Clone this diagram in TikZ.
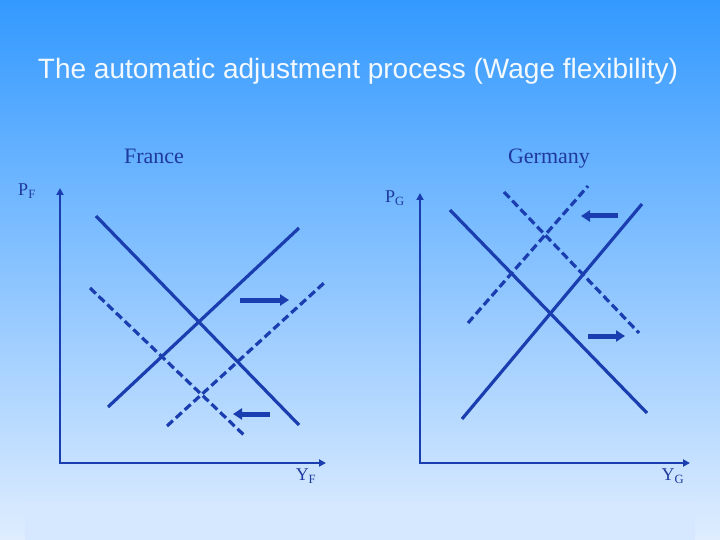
\documentclass[tikz,border=0pt]{standalone}
\usepackage{fontspec}
\setmainfont{Liberation Serif}
\newfontfamily\titlefont{Liberation Sans}
\usetikzlibrary{arrows.meta}

\definecolor{topblue}{HTML}{3399FF}
\definecolor{midblue}{HTML}{A4CAFA}
\definecolor{botblue}{HTML}{DFEDFF}
\definecolor{footblue}{HTML}{D5E8FF}
\definecolor{curveblue}{HTML}{1A3DB0}
\definecolor{labelblue}{HTML}{1F3A9E}

\begin{document}
\begin{tikzpicture}[
        x=1pt, y=-1pt,
        >={Triangle[length=7pt, width=7pt]},
        every node/.style={text=labelblue, inner sep=0pt},
        axis/.style={<->, draw=curveblue, line width=2.8pt},
        curve/.style={draw=curveblue, line width=3.2pt},
        shifted/.style={curve, dash pattern=on 8pt off 4pt},
        move/.style={draw=curveblue, line width=5pt, -{Triangle[length=9pt, width=11pt]}},
        lab/.style={font=\fontsize{18}{20}\selectfont},
        country/.style={font=\fontsize{22}{24}\selectfont, anchor=base},
    ]

    % ── Background ──
    \shade[top color=topblue, middle color=midblue, bottom color=botblue] (0,0) rectangle (720,540);
    \fill[footblue] (25,502) rectangle (695,540);

    % ── Title ──
    \node[text=white!94!topblue, font=\titlefont\fontsize{28}{30}\selectfont] (title) at (358,71)
        {The automatic adjustment process (Wage flexibility)};

    % ── France ──
    \node[country] (france) at (154,164) {France};
    \coordinate (fo) at (60,463);
    \coordinate (fy) at (60,188);
    \coordinate (fx) at (326,463);
    \draw[axis] (fy) -- (fo) -- (fx);
    \node[lab] (pf) at (27,191) {P\textsubscript{F}};
    \node[lab] (yf) at (306,476) {Y\textsubscript{F}};

    \coordinate (fd1) at (96,216);  \coordinate (fd2) at (299,425);
    \coordinate (fs1) at (108,407); \coordinate (fs2) at (299,228);
    \coordinate (fdd1) at (90,288); \coordinate (fdd2) at (246,437);
    \coordinate (fsd1) at (167,426); \coordinate (fsd2) at (324,283);
    \draw[curve] (fd1) -- (fd2);
    \draw[curve] (fs1) -- (fs2);
    \draw[shifted] (fdd1) -- (fdd2);
    \draw[shifted] (fsd1) -- (fsd2);

    \coordinate (fr1) at (240,300); \coordinate (fr2) at (289,300);
    \coordinate (fl1) at (270,414); \coordinate (fl2) at (233,414);
    \draw[move] (fr1) -- (fr2);
    \draw[move] (fl1) -- (fl2);

    % ── Germany ──
    \node[country] (germany) at (549,164) {Germany};
    \coordinate (go) at (420,463);
    \coordinate (gy) at (420,193);
    \coordinate (gx) at (690,463);
    \draw[axis] (gy) -- (go) -- (gx);
    \node[lab] (pg) at (395,198) {P\textsubscript{G}};
    \node[lab] (yg) at (673,476) {Y\textsubscript{G}};

    \coordinate (gd1) at (450,210);  \coordinate (gd2) at (647,413);
    \coordinate (gs1) at (462,419);  \coordinate (gs2) at (642,204);
    \coordinate (gdd1) at (504,192); \coordinate (gdd2) at (639,333);
    \coordinate (gsd1) at (468,323); \coordinate (gsd2) at (588,186);
    \draw[curve] (gd1) -- (gd2);
    \draw[curve] (gs1) -- (gs2);
    \draw[shifted] (gdd1) -- (gdd2);
    \draw[shifted] (gsd1) -- (gsd2);

    \coordinate (gl1) at (618,216); \coordinate (gl2) at (581,216);
    \coordinate (gr1) at (588,336); \coordinate (gr2) at (625,336);
    \draw[move] (gl1) -- (gl2);
    \draw[move] (gr1) -- (gr2);

\end{tikzpicture}
\end{document}
